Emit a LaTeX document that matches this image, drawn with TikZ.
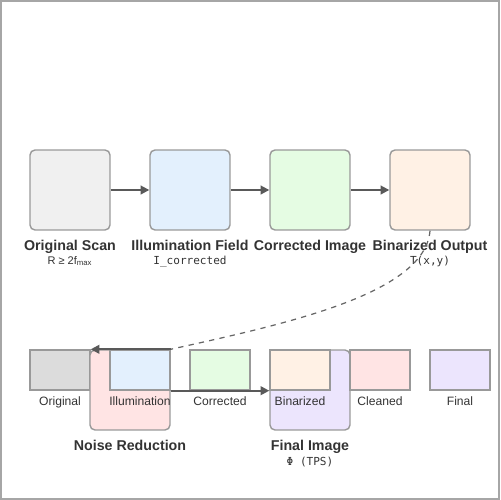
\documentclass[tikz,border=0pt]{standalone}
\usepackage{fontspec}
\setmainfont{Liberation Sans}
\setsansfont{Liberation Sans}
\setmonofont{DejaVu Sans Mono}
\usetikzlibrary{arrows.meta,positioning}
\definecolor{scangray}{HTML}{F0F0F0}
\definecolor{origgray}{HTML}{DCDCDC}
\definecolor{illumblue}{HTML}{E3F0FD}
\definecolor{corrgreen}{HTML}{E5FCE3}
\definecolor{binpeach}{HTML}{FFF1E5}
\definecolor{noisepink}{HTML}{FFE4E4}
\definecolor{finallav}{HTML}{ECE5FD}

\begin{document}
\begin{tikzpicture}[x=0.02cm,y=-0.02cm,
    stagebox/.style={draw=black!40,line width=0.8pt,rounded corners=0.1cm,minimum width=1.6cm,minimum height=1.6cm,inner sep=0pt},
    thumbbox/.style={draw=black!40,line width=0.8pt,minimum width=1.2cm,minimum height=0.8cm,inner sep=0pt},
    stagetitle/.style={anchor=base,font=\fontsize{8.1}{9}\selectfont\bfseries,text=black!80,inner sep=0pt},
    stagesub/.style={anchor=base,font=\fontsize{6.3}{7}\selectfont,text=black!80,inner sep=0pt},
    monosub/.style={anchor=base,font=\fontsize{6.3}{7}\selectfont\ttfamily,text=black!80,inner sep=0pt},
    thumbtitle/.style={anchor=base,font=\fontsize{6.9}{8}\selectfont,text=black!80,inner sep=0pt},
    flow/.style={draw=black!65,line width=1.1pt,-{Triangle[length=5pt,width=5pt]}},
    link/.style={draw=black!60,line width=0.7pt,dashed}]
\useasboundingbox (0,0) rectangle (500,500);
\draw[black!35,line width=1pt] (1,1) rectangle (499,499);

\node[stagebox,fill=scangray] (scan) at (70,190) {};
\node[stagebox,fill=illumblue] (illumf) at (190,190) {};
\node[stagebox,fill=corrgreen] (corr) at (310,190) {};
\node[stagebox,fill=binpeach] (binout) at (430,190) {};

\node[stagetitle] (scant) at (70,250) {Original Scan};
\node[stagetitle] (illumft) at (190,250) {Illumination Field};
\node[stagetitle] (corrt) at (310,250) {Corrected Image};
\node[stagetitle] (binoutt) at (430,250) {Binarized Output};
\node[stagesub] (scans) at (70,264) {R ≥ 2f\textsubscript{max}};
\node[monosub] (illumfs) at (190,264) {I\_corrected};
\node[monosub] (binouts) at (430,264) {T(x,y)};

\draw[flow] (scan) -- (illumf);
\draw[flow] (illumf) -- (corr);
\draw[flow] (corr) -- (binout);

\node[thumbbox,fill=origgray] (orig) at (60,370) {};
\node[stagebox,fill=noisepink] (noise) at (130,390) {};
\node[thumbbox,fill=illumblue] (illum) at (140,370) {};
\node[thumbbox,fill=corrgreen] (corrb) at (220,370) {};
\node[stagebox,fill=finallav] (final) at (310,390) {};
\node[thumbbox,fill=binpeach] (binz) at (300,370) {};
\node[thumbbox,fill=noisepink] (clean) at (380,370) {};
\node[thumbbox,fill=finallav] (finb) at (460,370) {};

\node[thumbtitle] (origt) at (60,405.5) {Original};
\node[thumbtitle] (illumt) at (140,405.5) {Illumination};
\node[thumbtitle] (corrbt) at (220,405.5) {Corrected};
\node[thumbtitle] (binzt) at (300,405.5) {Binarized};
\node[thumbtitle] (cleant) at (380,405.5) {Cleaned};
\node[thumbtitle] (finbt) at (460,405.5) {Final};

\node[stagetitle] (noiset) at (130,450) {Noise Reduction};
\node[stagetitle] (finalt) at (310,450) {Final Image};
\node[monosub] (finals) at (310,465) {Φ (TPS)};

\draw[link] (binout.south) .. controls (425,295) and (280,325) .. (illum.north east);
\draw[flow] (illum.north east) -- (orig.north east);
\draw[flow] (illum.south east) -- (binz.south west);
\end{tikzpicture}
\end{document}
